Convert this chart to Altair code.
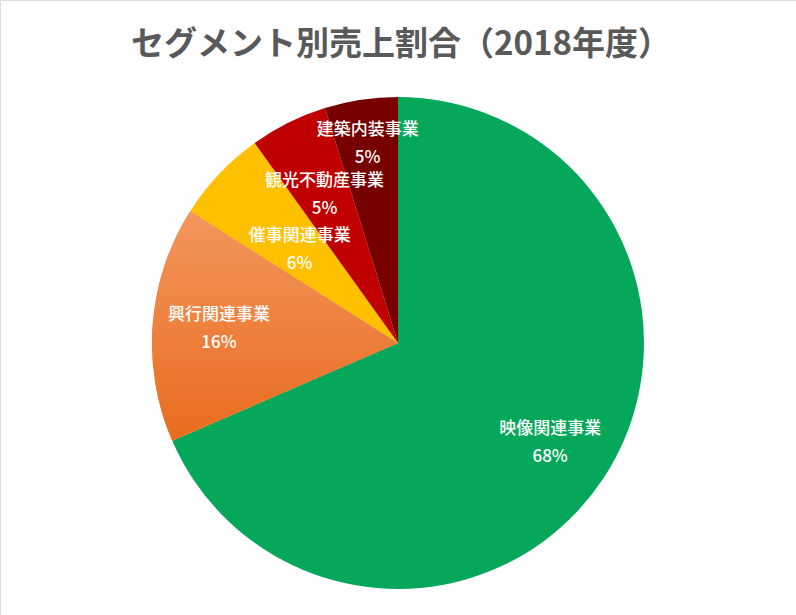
import altair as alt
import pandas as pd

names = ["映像関連事業", "興行関連事業", "催事関連事業", "観光不動産事業", "建築内装事業"]
values = [68.5, 15.5, 6.1, 5.1, 4.8]
pct_labels = ["68%", "16%", "6%", "5%", "5%"]
colors = ["#05A85A", "#F07B2E", "#FFC000", "#C00000", "#760000"]
title_text = "セグメント別売上割合（2018年度）"

# layout: label distance from the centre as a fraction of the pie radius (Excel "best fit")
label_radius_frac = [0.74, 0.73, 0.55, 0.67, 0.82]

CX, CY, R = 398, 343, 246
FONT = "Noto Sans CJK JP"

df = pd.DataFrame({"name": names, "value": values, "pct": pct_labels,
                   "order": list(range(len(names))),
                   "lr": [f * R for f in label_radius_frac]})

base = alt.Chart(df).transform_window(
    cum="sum(value)", sort=[{"field": "order"}], frame=[None, 0]
).transform_calculate(
    start="datum.cum - datum.value", mid="datum.cum - datum.value / 2"
)

theta_scale = alt.Scale(domain=[0, 100])

arcs = base.mark_arc(radius=R).encode(
    theta=alt.Theta("start:Q", scale=theta_scale),
    theta2="cum:Q",
    color=alt.Color("name:N", scale=alt.Scale(domain=names, range=colors), legend=None),
    x=alt.value(CX), y=alt.value(CY),
)

orange_grad = base.transform_filter(alt.datum.order == 1).mark_arc(
    radius=R,
    fill=alt.LinearGradient(
        gradient="linear",
        stops=[alt.GradientStop(color="#F4965D", offset=0),
               alt.GradientStop(color="#E86C1F", offset=1)],
        x1=0, x2=0, y1=0, y2=1,
    ),
).encode(
    theta=alt.Theta("start:Q", scale=theta_scale),
    theta2="cum:Q",
    x=alt.value(CX), y=alt.value(CY),
)

def label_layer(field, dy):
    return base.mark_text(dy=dy, font=FONT, fontSize=17, fontWeight=500, color="white",
                          align="center", baseline="middle").encode(
        theta=alt.Theta("mid:Q", scale=theta_scale),
        radius=alt.Radius("lr:Q", scale=None),
        text=f"{field}:N",
        x=alt.value(CX), y=alt.value(CY),
    )

name_text = label_layer("name", -14)
pct_text = label_layer("pct", 14)

title = alt.Chart(pd.DataFrame({"t": [title_text]})).mark_text(
    font=FONT, fontSize=33, fontWeight="bold", color="#595959",
    align="center", baseline="middle"
).encode(text="t:N", x=alt.value(401), y=alt.value(45))

chart = alt.layer(arcs, orange_grad, name_text, pct_text, title).properties(
    width=796, height=615,
    autosize=alt.AutoSizeParams(type="fit", contains="padding"),
    padding=0,
).configure_view(stroke="#D9D9D9", strokeWidth=4).configure(background="white")

chart.save("out.html", embed_options={"renderer": "svg", "actions": False})
